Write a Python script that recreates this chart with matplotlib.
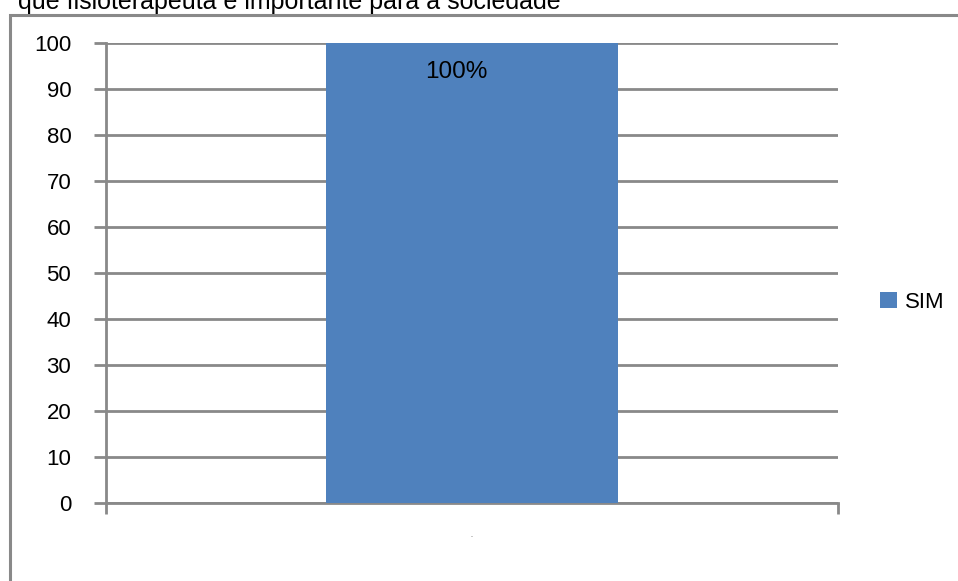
import matplotlib.pyplot as plt
from matplotlib.patches import Rectangle

categories = ["-"]
sim_values = [100]
bar_labels = ["100%"]
yticks = [0, 10, 20, 30, 40, 50, 60, 70, 80, 90, 100]

grey = "#898989"
blue = "#4F81BD"

fig = plt.figure(figsize=(9.58, 5.81), dpi=100)

# outer frame of the chart object, running off the right and bottom
fig.patches.append(Rectangle((10 / 958, -0.1), 1.2, 1 - 15 / 581 + 0.1,
                             transform=fig.transFigure, fill=False,
                             edgecolor=grey, linewidth=2.2))

fig.text(18 / 958, 1 - 9 / 581, "que fisioterapeuta é importante para a sociedade",
         fontsize=18, family="Liberation Sans", va="baseline", ha="left")

ax = fig.add_axes([106 / 958, 1 - 503 / 581, 732 / 958, 460 / 581])
x = range(len(categories))
ax.bar(x, sim_values, width=0.4, color=blue, label="SIM", zorder=3)
for i, v in enumerate(sim_values):
    ax.text(i - 0.022, v - 6.3, bar_labels[i], ha="center", va="center",
            fontsize=17.5, family="Liberation Sans", zorder=4)

ax.set_xlim(-0.5, 0.5)
ax.set_ylim(0, 100)
ax.set_yticks(yticks)
ax.set_yticklabels([str(t) for t in yticks], fontsize=16, family="Liberation Sans")
ax.yaxis.grid(True, color=grey, linewidth=2, zorder=0)
ax.tick_params(axis="y", length=9, width=2, color=grey, pad=16)
ax.set_xticks([-0.5, 0.5])
ax.set_xticklabels(["", ""])
ax.tick_params(axis="x", length=8, width=2, color=grey, direction="out")
ax.text(0, -7.3, categories[0], ha="center", va="center", fontsize=4, color="#555555")

for side in ["top", "right"]:
    ax.spines[side].set_visible(False)
for side in ["left", "bottom"]:
    ax.spines[side].set_color(grey)
    ax.spines[side].set_linewidth(2)

fig.legend(loc="center left", bbox_to_anchor=(871 / 958, 1 - 302 / 581),
           frameon=False, handlelength=0.75, handleheight=0.75, handletextpad=0.4,
           prop={"family": "Liberation Sans", "size": 16}, borderaxespad=0)

fig.savefig("out.png", dpi=100)
